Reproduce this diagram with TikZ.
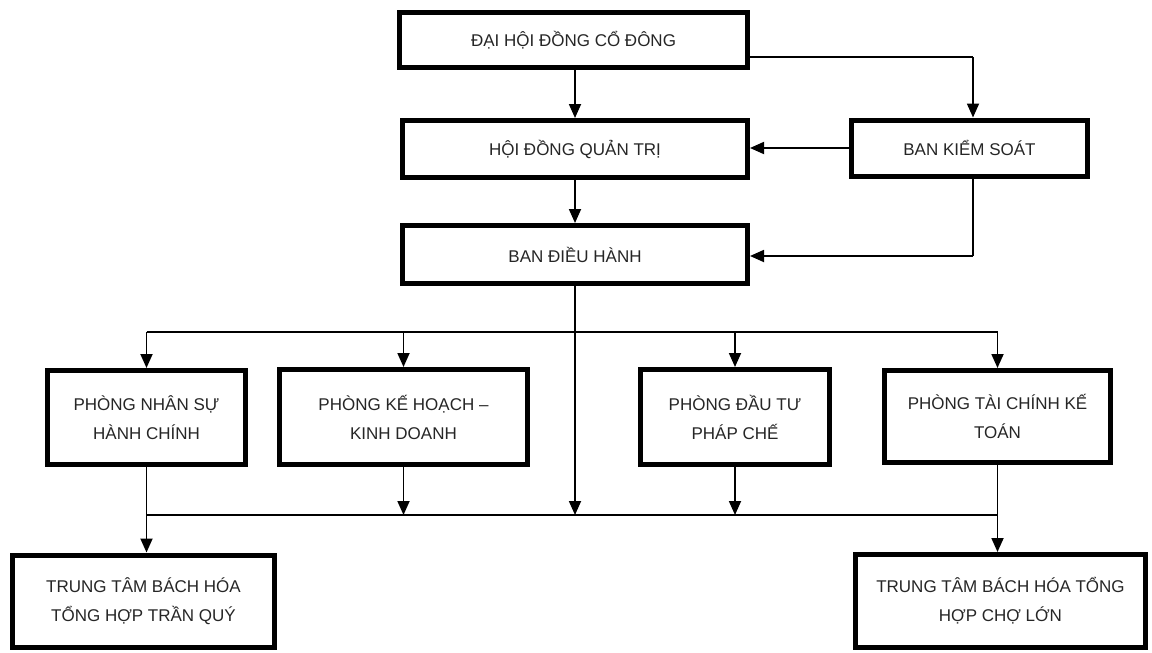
\documentclass[tikz,border=0pt]{standalone}
\usepackage{fontspec}
\setmainfont{Liberation Sans}
\usetikzlibrary{arrows.meta,calc}
\begin{document}
\begin{tikzpicture}[x=1pt,y=-1pt,
  box/.style={draw=black,line width=5pt,fill=white,align=center,inner sep=0pt,
    font=\fontsize{17}{29}\selectfont,text=black!85},
  arr/.style={line width=1.8pt,-{Triangle[length=14pt,width=12pt]}},
  thinl/.style={line width=1.1pt}]
\useasboundingbox (0,0) rectangle (1152,653);
\fill[white] (0,0) rectangle (1152,653);
% nodes
\node[box,minimum width=348pt,minimum height=55pt] (dhcd) at (573.5,40) {ĐẠI HỘI ĐỒNG CỔ ĐÔNG};
\node[box,minimum width=345pt,minimum height=57pt] (hdqt) at (575,149) {HỘI ĐỒNG QUẢN TRỊ};
\node[box,minimum width=236pt,minimum height=56pt] (bks) at (969.5,148) {BAN KIỂM SOÁT};
\node[box,minimum width=345pt,minimum height=58pt] (bdh) at (575,254.5) {BAN ĐIỀU HÀNH};
\node[box,minimum width=198pt,minimum height=94pt] (p1) at (146.5,417.5) {PHÒNG NHÂN SỰ\\HÀNH CHÍNH};
\node[box,minimum width=248pt,minimum height=95pt] (p2) at (403.5,417) {PHÒNG KẾ HOẠCH –\\KINH DOANH};
\node[box,minimum width=189pt,minimum height=95pt] (p3) at (735,417) {PHÒNG ĐẦU TƯ\\PHÁP CHẾ};
\node[box,minimum width=226pt,minimum height=92pt] (p4) at (997.5,416.5) {PHÒNG TÀI CHÍNH KẾ\\TOÁN};
\node[box,minimum width=262pt,minimum height=92pt] (t1) at (143.5,601) {TRUNG TÂM BÁCH HÓA\\TỔNG HỢP TRẦN QUÝ};
\node[box,minimum width=290pt,minimum height=93pt] (t2) at (1000.5,601) {TRUNG TÂM BÁCH HÓA TỔNG\\HỢP CHỢ LỚN};
% bus coordinates
\coordinate (ub1) at (146.5,332);
\coordinate (ub4) at (997.5,332);
\coordinate (lb1) at (146.5,515);
\coordinate (lb4) at (997.5,515);
\coordinate (kbend) at (973,57);
\coordinate (sbend) at (973,256);
% top part
\draw[arr] (dhcd.south -| hdqt.north) -- (hdqt.north);
\draw[thinl] ([yshift=-17pt]dhcd.east) -- (kbend);
\draw[arr] (kbend) -- (kbend |- bks.north);
\draw[arr] (bks.west) -- (bks.west -| hdqt.east);
\draw[arr] (hdqt.south) -- (bdh.north);
\draw[thinl] (bks.south -| sbend) -- (sbend);
\draw[arr] (sbend) -- (sbend -| bdh.east);
% upper bus
\draw[thinl] (bdh.south) -- (bdh.south |- ub1);
\draw[thinl] (ub1) -- (ub4);
\draw[arr] (ub1) -- (p1.north);
\draw[arr] (ub1 -| p2.north) -- (p2.north);
\draw[arr] (ub1 -| p3.north) -- (p3.north);
\draw[arr] (ub4) -- (p4.north);
% lower bus
\draw[arr] (bdh.south |- ub1) -- (bdh.south |- lb1);
\draw[arr] (p2.south) -- (p2.south |- lb1);
\draw[arr] (p3.south) -- (p3.south |- lb1);
\draw[thinl] (p1.south) -- (lb1);
\draw[thinl] (p4.south) -- (lb4);
\draw[thinl] (lb1) -- (lb4);
\draw[arr] (lb1) -- (lb1 |- t1.north);
\draw[arr] (lb4) -- (lb4 |- t2.north);
\end{tikzpicture}
\end{document}
